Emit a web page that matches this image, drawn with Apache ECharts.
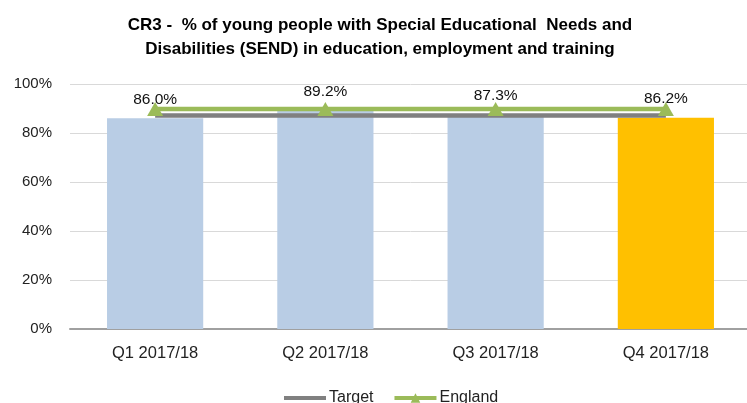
<!DOCTYPE html>
<html>
<head>
<meta charset="utf-8">
<script src="https://cdn.jsdelivr.net/npm/echarts@6/dist/echarts.min.js"></script>
<style>html,body{margin:0;padding:0;background:#fff;overflow:hidden}#c{width:760px;height:403px}</style>
</head>
<body>
<div id="c"></div>
<script>
var categories = ['Q1 2017/18', 'Q2 2017/18', 'Q3 2017/18', 'Q4 2017/18'];
var actualValues = [86.0, 89.2, 87.3, 86.2];
var targetValues = [87.1, 87.1, 87.1, 87.1];
var englandValues = [89.8, 89.8, 89.8, 89.8];
var yTicks = [0, 20, 40, 60, 80, 100];
var barColors = ['#b9cde5', '#b9cde5', '#b9cde5', '#ffc000'];

var chart = echarts.init(document.getElementById('c'));
var font = 'Liberation Sans';
chart.setOption({
  animation: false,
  title: {
    text: 'CR3 -  % of young people with Special Educational  Needs and\nDisabilities (SEND) in education, employment and training',
    left: 375, top: 8, textAlign: 'center',
    textStyle: { fontFamily: font, fontSize: 17, fontWeight: 'bold', color: '#000', lineHeight: 24 }
  },
  legend: {
    left: 277, top: 385,
    itemWidth: 42, itemHeight: 12, itemGap: 19,
    lineStyle: { width: 4 },
    data: [
      { name: 'Target', itemStyle: { opacity: 0 }, lineStyle: { width: 4 } },
      { name: 'England', lineStyle: { width: 4 } }
    ],
    textStyle: { fontFamily: font, fontSize: 16, color: '#222', padding: [0, 0, 0, -2] }
  },
  grid: { left: 70, top: 84, width: 681, height: 245 },
  xAxis: {
    type: 'category', data: categories,
    axisTick: { show: false },
    axisLine: { lineStyle: { color: '#a0a0a0', width: 2 } },
    axisLabel: { fontFamily: font, fontSize: 16.5, color: '#222', margin: 16 }
  },
  yAxis: {
    type: 'value', min: yTicks[0], max: yTicks[yTicks.length - 1], interval: 20,
    axisLine: { show: false }, axisTick: { show: false },
    splitLine: { lineStyle: { color: '#d9d9d9', width: 1 } },
    axisLabel: { fontFamily: font, fontSize: 15, color: '#222', margin: 18, formatter: '{value}%' }
  },
  series: [
    {
      name: 'Actual', type: 'bar', barWidth: '56.5%',
      data: actualValues.map(function (v, i) { return { value: v, itemStyle: { color: barColors[i] } }; }),
      label: {
        show: true, position: 'top', distance: 11,
        fontFamily: font, fontSize: 15.5, color: '#111',
        formatter: function (p) { return p.value.toFixed(1) + '%'; }
      },
      z: 2
    },
    {
      name: 'Target', type: 'line', data: targetValues,
      symbol: 'none', itemStyle: { color: '#808080' },
      lineStyle: { color: '#808080', width: 4.5 }, z: 3
    },
    {
      name: 'England', type: 'line', data: englandValues,
      symbol: 'triangle', symbolSize: [16, 14],
      itemStyle: { color: '#9bbb59' },
      lineStyle: { color: '#9bbb59', width: 4.5 }, z: 4
    }
  ]
});
</script>
</body>
</html>
